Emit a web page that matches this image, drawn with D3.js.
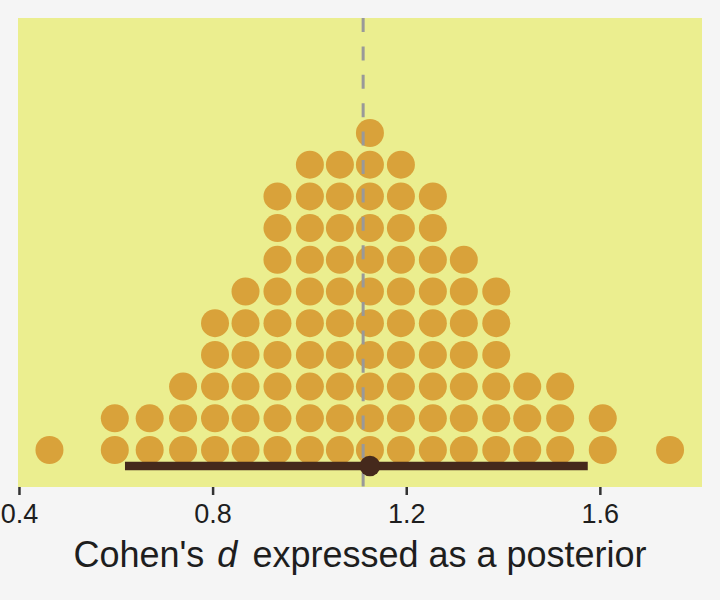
<!DOCTYPE html>
<html>
<head>
<meta charset="utf-8">
<script src="https://cdn.jsdelivr.net/npm/d3@7"></script>
<style>
  body { margin: 0; background: #f5f5f5; }
  svg { display: block; font-family: "Liberation Sans", Arial, sans-serif; }
</style>
</head>
<body>
<script>
// quantile dotplot: bin centres (Cohen's d) and how many dots are stacked in each
const binCenters = [0.463, 0.598, 0.670, 0.739, 0.805, 0.868, 0.934, 1.001, 1.063,
	1.125, 1.189, 1.255, 1.319, 1.386, 1.450, 1.518, 1.606, 1.745];
const binCounts = [1, 2, 2, 3, 5, 6, 9, 10, 10, 11, 10, 9, 7, 6, 3, 3, 2, 1];

// point + interval summary, and the dashed reference line
const pointEstimate = [1.125];
const intervalEnds = [0.619, 1.575];
const refLine = [1.111];

const xTicks = [0.4, 0.8, 1.2, 1.6];
const xTitle = ["Cohen's ", "d", " expressed as a posterior"];

let width = 720;
let height = 600;
let panel = {left: 18, right: 702, top: 18, bottom: 487};

let x = d3.scaleLinear()
	.domain([0.398, 1.811])
	.range([panel.left, panel.right]);

// stack position -> vertical pixel
let yStack = d3.scaleLinear()
	.domain([0, 10])
	.range([450, 133]);

let dotR = 14;

let svg = d3.select("body").append("svg")
	.attr("width", width)
	.attr("height", height);

svg.append("rect")
	.attr("width", width)
	.attr("height", height)
	.attr("fill", "#f5f5f5");

svg.append("rect")
	.attr("x", panel.left)
	.attr("y", panel.top)
	.attr("width", panel.right - panel.left)
	.attr("height", panel.bottom - panel.top)
	.attr("fill", "#ebee8f");

// one record per dot
let dots = [];
binCenters.forEach((c, i) => {
	for (let k = 0; k < binCounts[i]; k++) {
		dots.push({value: c, level: k});
	}
});

svg.selectAll(".dot")
	.data(dots)
	.join("circle")
	.attr("class", "dot")
	.attr("cx", d => x(d.value))
	.attr("cy", d => yStack(d.level))
	.attr("r", dotR)
	.attr("fill", "#d9a23a");

svg.selectAll(".refline")
	.data(refLine)
	.join("line")
	.attr("class", "refline")
	.attr("x1", d => x(d))
	.attr("x2", d => x(d))
	.attr("y1", panel.top)
	.attr("y2", panel.bottom)
	.attr("stroke", "#999999")
	.attr("stroke-width", 3)
	.attr("stroke-dasharray", "14,14.4");

let intervalY = 466;

svg.append("line")
	.attr("x1", x(intervalEnds[0]))
	.attr("x2", x(intervalEnds[1]))
	.attr("y1", intervalY)
	.attr("y2", intervalY)
	.attr("stroke", "#45291c")
	.attr("stroke-width", 8.5);

svg.selectAll(".point")
	.data(pointEstimate)
	.join("circle")
	.attr("class", "point")
	.attr("cx", d => x(d))
	.attr("cy", intervalY)
	.attr("r", 10.3)
	.attr("fill", "#45291c");

// x axis
let axis = svg.append("g")
	.attr("transform", `translate(0,${panel.bottom})`)
	.call(d3.axisBottom(x).tickValues(xTicks).tickFormat(d3.format(".1f")).tickSize(8).tickPadding(9));
axis.select(".domain").remove();
axis.selectAll(".tick line")
	.attr("stroke", "#333333")
	.attr("stroke-width", 2.5);
axis.selectAll(".tick text")
	.attr("fill", "#1e1e1e")
	.attr("font-size", 27)
	.attr("font-family", "Liberation Sans, Arial, sans-serif");

// plotmath-style title: a little extra room around the italic d
let title = svg.append("text")
	.attr("x", (panel.left + panel.right) / 2)
	.attr("y", 567)
	.attr("text-anchor", "middle")
	.attr("font-size", 36)
	.attr("fill", "#1e1e1e")
	.attr("xml:space", "preserve")
	.style("white-space", "pre");
title.selectAll("tspan")
	.data(xTitle)
	.join("tspan")
	.attr("font-style", (d, i) => i === 1 ? "italic" : "normal")
	.attr("dx", (d, i) => i === 1 ? 3 : (i === 2 ? 5 : 0))
	.text(d => d);
</script>
</body>
</html>
